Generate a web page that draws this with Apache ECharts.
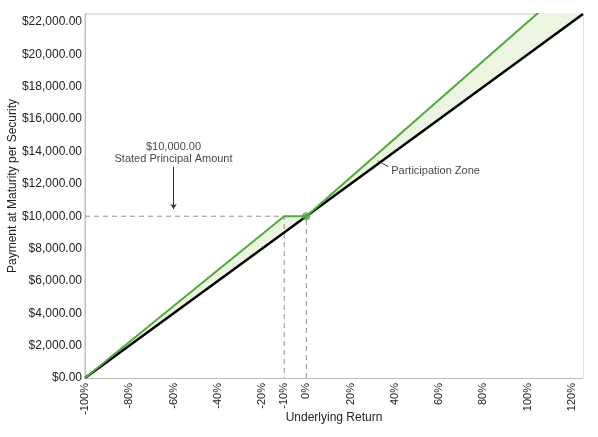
<!DOCTYPE html>
<html>
<head>
<meta charset="utf-8">
<script src="https://cdn.jsdelivr.net/npm/echarts@6/dist/echarts.min.js"></script>
<style>html,body{margin:0;padding:0;background:#fff}#c{width:598px;height:437px}</style>
</head>
<body>
<div id="c"></div>
<script>
// Data (underlying return in %, payment in $)
const returnPoints = [-100, -10, 0, 100, 125];
const securityPayment = [0, 10000, 10000, 22000, 25000];
const underlyingPayment = [0, 9000, 10000, 20000, 22500];
const xTickValues = [-100, -80, -60, -40, -20, -10, 0, 20, 40, 60, 80, 100, 120];
const yTickValues = [0, 2000, 4000, 6000, 8000, 10000, 12000, 14000, 16000, 18000, 20000, 22000];
const principal = 10000;
const bufferReturn = -10;

const FONT = '"Liberation Sans", Arial, sans-serif';
const chart = echarts.init(document.getElementById('c'), null, {renderer: 'canvas'});

const black = returnPoints.map((x, i) => [x, underlyingPayment[i]]);
const green = returnPoints.map((x, i) => [x, securityPayment[i]]);

function money(v) {
  return '$' + Number(v).toLocaleString('en-US', {minimumFractionDigits: 2, maximumFractionDigits: 2});
}

chart.setOption({
  animation: false,
  backgroundColor: '#fff',
  grid: {left: 85, right: 15, top: 14, bottom: 59, outerBoundsMode: 'none', containLabel: false,
         show: true, borderColor: '#c4c4c4', borderWidth: 1},
  xAxis: {
    type: 'value', min: -100, max: 125,
    name: 'Underlying Return', nameLocation: 'middle', nameGap: 34, nameMoveOverlap: false,
    nameTextStyle: {fontFamily: FONT, fontSize: 12, color: '#222'},
    axisLine: {show: true, onZero: false, lineStyle: {color: '#bdbdbd'}},
    axisTick: {show: false},
    splitLine: {show: false},
    axisLabel: {
      customValues: xTickValues, rotate: 90, margin: 5,
      fontFamily: FONT, fontSize: 11, color: '#222',
      formatter: v => v + '%'
    }
  },
  yAxis: {
    type: 'value', min: 0, max: 22500,
    name: 'Payment at Maturity per Security', nameLocation: 'middle', nameGap: 66, nameMoveOverlap: false,
    nameTextStyle: {fontFamily: FONT, fontSize: 12, color: '#222', padding: [0, 0, 0, 20]},
    axisLine: {show: true, onZero: false, lineStyle: {color: '#bdbdbd'}},
    axisTick: {show: false},
    splitLine: {show: false},
    axisLabel: {
      customValues: yTickValues, margin: 3,
      fontFamily: FONT, fontSize: 12, color: '#222',
      formatter: v => money(v)
    }
  },
  series: [
    // participation zone fill: green area, then white area under the underlying line
    {type: 'line', data: green, symbol: 'none', lineStyle: {opacity: 0},
     areaStyle: {color: '#ecf5e1', opacity: 1}, silent: true, z: 1},
    {type: 'line', data: black, symbol: 'none', lineStyle: {opacity: 0},
     areaStyle: {color: '#ffffff', opacity: 1}, silent: true, z: 1},
    {type: 'line', data: [[-100, principal], [bufferReturn, principal], [bufferReturn, 0]], symbol: 'none',
     lineStyle: {color: '#8f8f8f', width: 1, type: [5, 4]}, z: 2},
    {type: 'line', data: [[0, 0], [0, principal]], symbol: 'none',
     lineStyle: {color: '#8f8f8f', width: 1, type: [5, 4]}, z: 2},
    {type: 'line', data: black, symbol: 'none', lineStyle: {color: '#000', width: 2.5}, z: 3},
    {type: 'line', data: green, symbol: 'none', lineStyle: {color: '#4faa3a', width: 2}, z: 4},
    {type: 'scatter', data: [[0, principal]], symbol: 'circle', symbolSize: 8,
     itemStyle: {color: '#4faa3a'}, z: 5},
    // Stated principal annotation (text + arrow)
    {type: 'scatter', data: [[-60, 13050]], symbolSize: 0,
     label: {show: true, position: 'top', distance: 2, formatter: '$10,000.00\nStated Principal Amount',
       fontFamily: FONT, fontSize: 11, color: '#111', lineHeight: 12, align: 'center'},
     markLine: {silent: true, symbol: ['none', 'arrow'], symbolSize: 5, label: {show: false},
       lineStyle: {color: '#333', width: 1, type: 'solid'},
       data: [[{coord: [-60, 13050]}, {coord: [-60, 10450]}]]}, z: 5},
    // Participation zone leader
    {type: 'line', data: [[32.3, 13430], [37.0, 13060]], symbol: 'none',
     lineStyle: {color: '#333', width: 1}, z: 5},
    {type: 'scatter', data: [[37.0, 13060]], symbolSize: 0,
     label: {show: true, position: 'right', distance: 3, offset: [0, 4], formatter: 'Participation Zone',
       fontFamily: FONT, fontSize: 11, color: '#111'}, z: 5}
  ]
});
</script>
</body>
</html>
